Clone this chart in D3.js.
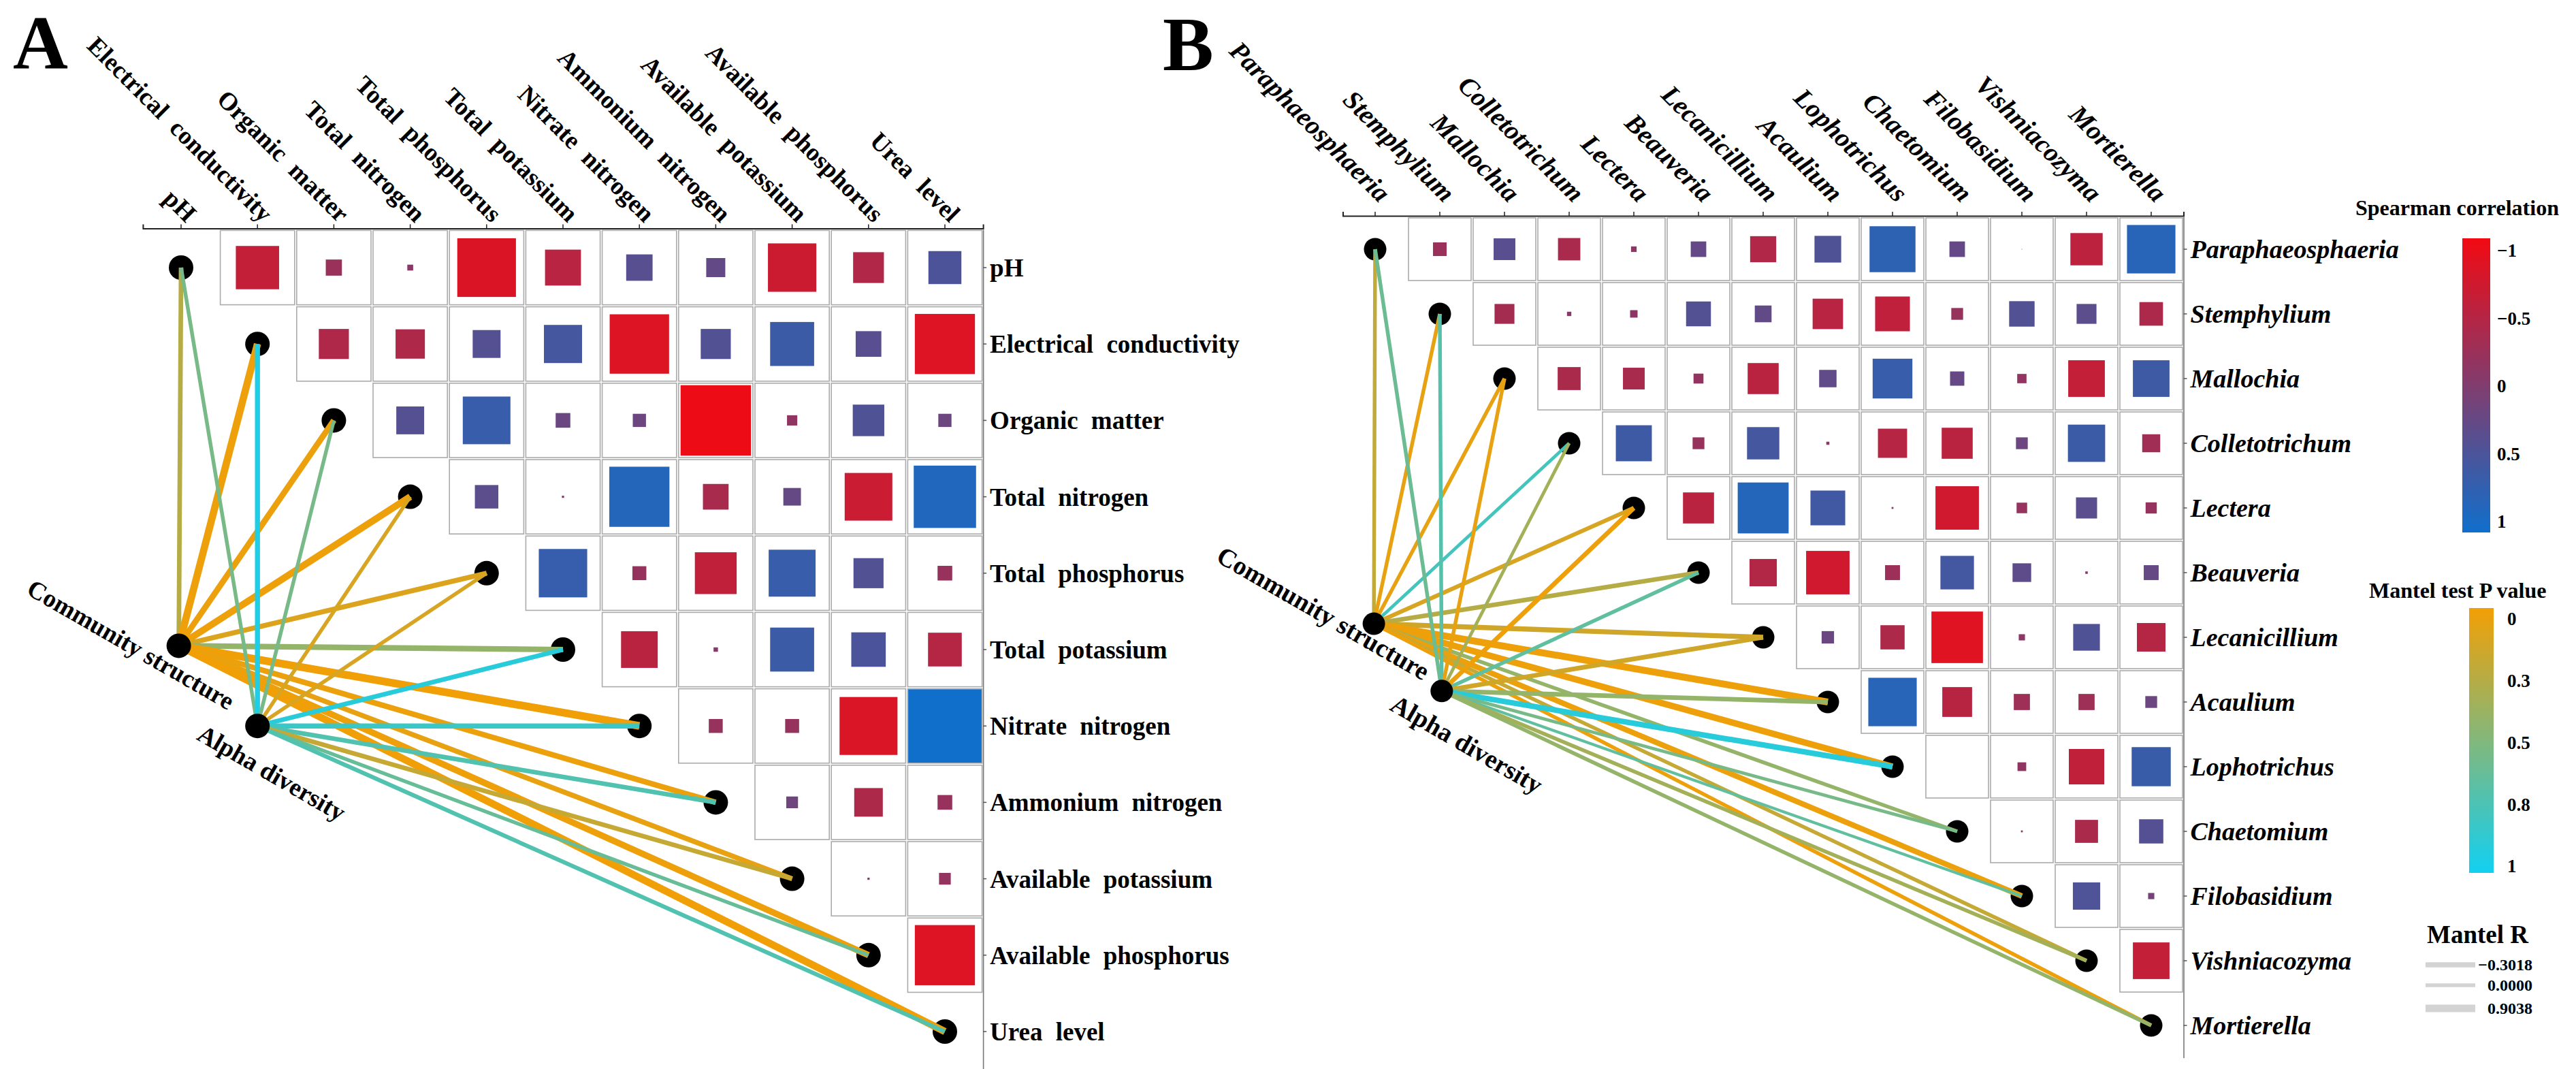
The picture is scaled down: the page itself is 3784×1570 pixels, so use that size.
<!DOCTYPE html>
<html>
<head>
<meta charset="utf-8">
<script src="https://cdn.jsdelivr.net/npm/d3@7"></script>
<style>
body { margin: 0; background: #fff; }
svg { display: block; }
</style>
</head>
<body>
<script>
// ---------- Panel A: soil properties ----------
const soilVars = ["pH", "Electrical conductivity", "Organic matter", "Total nitrogen", "Total phosphorus",
    "Total potassium", "Nitrate nitrogen", "Ammonium nitrogen", "Available potassium", "Available phosphorus", "Urea level"];
// Spearman r, upper triangle, row i holds columns i+1..n-1
const soilCorr = [
    [-0.59, -0.22, -0.08, -0.80, -0.49, 0.36, 0.26, -0.66, -0.42, 0.45],
    [-0.41, -0.40, 0.38, 0.52, -0.81, 0.41, 0.60, 0.35, -0.82],
    [0.38, 0.65, 0.20, 0.18, -0.96, -0.14, 0.43, 0.18],
    [0.32, -0.03, 0.82, -0.35, 0.24, -0.65, 0.85],
    [0.66, -0.19, -0.57, 0.64, 0.41, -0.20],
    [-0.50, -0.06, 0.60, 0.47, -0.46],
    [-0.19, -0.19, -0.79, 1.0],
    [0.16, -0.39, -0.20],
    [-0.03, -0.16],
    [-0.82]
];
const soilStructR = [0.16, 0.72, 0.44, 0.63, 0.25, 0.35, 0.81, 0.35, 0.25, 0.53, 0.72];
const soilStructP = [0.27, 0.02, 0.03, 0.02, 0.10, 0.42, 0.01, 0.03, 0.05, 0.02, 0.01];
const soilAlphaR = [-0.02, 0.25, -0.02, -0.02, -0.02, 0.16, 0.25, 0.16, 0.16, -0.02, 0.07];
const soilAlphaP = [0.55, 0.95, 0.55, 0.12, 0.12, 0.90, 0.82, 0.72, 0.20, 0.62, 0.72];

// ---------- Panel B: fungal genera ----------
const fungiVars = ["Paraphaeosphaeria", "Stemphylium", "Mallochia", "Colletotrichum", "Lectera", "Beauveria",
    "Lecanicillium", "Acaulium", "Lophotrichus", "Chaetomium", "Filobasidium", "Vishniacozyma", "Mortierella"];
const fungiCorr = [
    [-0.22, 0.35, -0.36, -0.09, 0.25, -0.42, 0.43, 0.74, 0.25, 0.01, -0.52, 0.78],
    [-0.32, -0.07, -0.12, 0.40, 0.27, -0.49, -0.56, -0.19, 0.41, 0.32, -0.38],
    [-0.37, -0.35, -0.16, -0.50, 0.28, 0.64, 0.23, -0.15, -0.59, 0.59],
    [0.58, -0.19, 0.52, -0.05, -0.47, -0.50, 0.19, 0.60, -0.29],
    [-0.50, 0.82, 0.56, -0.03, -0.70, -0.17, 0.34, -0.18],
    [-0.44, -0.70, -0.24, 0.54, 0.30, -0.04, 0.24],
    [0.20, -0.39, -0.83, -0.10, 0.43, -0.46],
    [0.78, -0.48, -0.26, -0.26, 0.19],
    [0.0, -0.14, -0.57, 0.63],
    [-0.03, -0.37, 0.39],
    [0.44, 0.10],
    [-0.59]
];
const fungiStructR = [-0.02, -0.02, -0.02, -0.12, 0.07, 0.16, 0.25, 0.63, 0.53, -0.02, 0.35, -0.02, -0.02];
const fungiStructP = [0.22, 0.05, 0.05, 0.78, 0.12, 0.27, 0.15, 0.02, 0.02, 0.42, 0.03, 0.20, 0.02];
const fungiAlphaR = [-0.02, -0.02, -0.02, -0.12, 0.16, -0.02, 0.16, 0.16, 0.35, -0.12, -0.21, -0.02, -0.02];
const fungiAlphaP = [0.60, 0.70, 0.05, 0.35, 0.02, 0.65, 0.15, 0.42, 0.90, 0.55, 0.65, 0.35, 0.42];

// ---------- legends ----------
const corrTicks = [-1, -0.5, 0, 0.5, 1];
const corrTickLabels = ["\u22121", "\u22120.5", "0", "0.5", "1"];
const pTicks = [0, 0.25, 0.5, 0.75, 1];
const pTickLabels = ["0", "0.3", "0.5", "0.8", "1"];
const mantelRKeys = [-0.3018, 0, 0.9038];
const mantelRLabels = ["\u22120.3018", "0.0000", "0.9038"];

const width = 3784;
const height = 1570;
const serif = "'Liberation Serif', 'Times New Roman', serif";

const svg = d3.select("body").append("svg")
    .attr("width", width)
    .attr("height", height)
    .style("font-family", serif)
    .style("font-weight", "bold");

svg.append("rect").attr("width", width).attr("height", height).attr("fill", "#fff");

const corrColor = d3.scaleLinear().domain([-1, 1]).range(["#F20A12", "#0F6FCB"]);
const pColor = d3.scaleLinear().domain([0, 1]).range(["#F29F05", "#12D0F2"]);
const lineWidth = d3.scaleLinear().domain([-0.3018, 0.9038]).range([3.5, 12]);
const legendLineWidth = d3.scaleLinear().domain([-0.3018, 0, 0.9038]).range([7.3, 5.7, 11]);

function drawPanel(p) {
    const n = p.vars.length;
    const half = p.pitch / 2;
    const x = d3.scaleBand().domain(p.vars).range([p.x0 - half, p.x0 + (n - 0.5) * p.pitch]);
    const y = d3.scaleBand().domain(p.vars).range([p.y0 - half, p.y0 + (n - 0.5) * p.pitch]);
    const cx = v => x(v) + half;
    const cy = v => y(v) + half;
    const side = d3.scaleLinear().domain([0, 1]).range([0, p.pitch * 0.96]);
    const g = svg.append("g");

    const cells = [];
    p.corr.forEach((row, i) => row.forEach((r, k) => {
        cells.push({ row: p.vars[i], col: p.vars[i + 1 + k], r: r });
    }));

    g.selectAll("rect.cell")
        .data(cells)
        .join("rect")
        .attr("class", "cell")
        .attr("x", d => x(d.col) + 1.5)
        .attr("y", d => y(d.row) + 1.5)
        .attr("width", p.pitch - 3)
        .attr("height", p.pitch - 3)
        .attr("fill", "#fff")
        .attr("stroke", "#ABABAB")
        .attr("stroke-width", 1.6);

    g.selectAll("rect.sq")
        .data(cells)
        .join("rect")
        .attr("class", "sq")
        .attr("x", d => cx(d.col) - side(Math.abs(d.r)) / 2)
        .attr("y", d => cy(d.row) - side(Math.abs(d.r)) / 2)
        .attr("width", d => side(Math.abs(d.r)))
        .attr("height", d => side(Math.abs(d.r)))
        .attr("fill", d => corrColor(d.r));

    // top axis with rotated labels
    const axTop = g.append("g")
        .attr("transform", `translate(0,${p.y0 - half - 1.5})`)
        .call(d3.axisTop(x).tickSizeInner(6).tickSizeOuter(6));
    axTop.attr("font-family", serif).attr("font-size", null);
    axTop.select(".domain").attr("stroke", "#222").attr("stroke-width", 2);
    axTop.selectAll(".tick line").attr("stroke", "#222").attr("stroke-width", 1.5);
    axTop.selectAll(".tick text")
        .attr("y", 0).attr("dy", null)
        .attr("text-anchor", "end")
        .attr("transform", `translate(${p.colDx},${p.colDy}) rotate(45)`)
        .attr("font-size", p.colFs)
        .style("font-style", p.italic ? "italic" : "normal")
        .style("word-spacing", p.wordSpace + "px")
        .attr("fill", "#000");

    // right axis with row labels
    const axRight = g.append("g")
        .attr("transform", `translate(${p.x0 + (n - 0.5) * p.pitch},0)`)
        .call(d3.axisRight(y).tickSizeInner(5).tickSizeOuter(0).tickPadding(5));
    axRight.attr("font-family", serif).attr("font-size", null);
    axRight.select(".domain").attr("stroke", "#777").attr("stroke-width", 1.6);
    axRight.selectAll(".tick line").attr("stroke", "#555").attr("stroke-width", 1.5);
    axRight.selectAll(".tick text")
        .attr("dy", "0.35em")
        .attr("font-size", p.fs)
        .style("font-style", p.italic ? "italic" : "normal")
        .style("word-spacing", p.wordSpace + "px")
        .attr("fill", "#000");

    // diagonal nodes
    g.selectAll("circle.diag")
        .data(p.vars)
        .join("circle")
        .attr("class", "diag")
        .attr("cx", cx)
        .attr("cy", cy)
        .attr("r", p.nodeR)
        .attr("fill", "#000");

    // mantel links
    const srcPos = s => [p.x0 + s.col * p.pitch, p.y0 + s.row * p.pitch];
    const links = [];
    p.sources.forEach(s => {
        const [sx, sy] = srcPos(s);
        p.vars.forEach((v, i) => links.push({ sx, sy, tx: cx(v), ty: cy(v), r: s.R[i], pv: s.P[i] }));
    });
    g.selectAll("line.link")
        .data(links)
        .join("line")
        .attr("class", "link")
        .attr("x1", d => d.sx).attr("y1", d => d.sy)
        .attr("x2", d => d.tx).attr("y2", d => d.ty)
        .attr("stroke", d => pColor(d.pv))
        .attr("stroke-width", d => lineWidth(d.r));

    p.sources.forEach(s => {
        const [sx, sy] = srcPos(s);
        g.append("circle").attr("cx", sx).attr("cy", sy).attr("r", p.nodeR).attr("fill", "#000");
        g.append("text")
            .attr("transform", `translate(${sx + s.ldx},${sy + s.ldy}) rotate(${s.angle})`)
            .attr("text-anchor", s.anchor)
            .attr("font-size", p.fs)
            .text(s.name);
    });

    svg.append("text")
        .attr("x", p.letterX).attr("y", p.letterY)
        .attr("font-size", 112)
        .text(p.letter);
}

drawPanel({
    vars: soilVars, corr: soilCorr, x0: 266, y0: 393, pitch: 112.2, nodeR: 18,
    fs: 37, colFs: 37, italic: false, wordSpace: 10, colDx: 7, colDy: -7,
    letter: "A", letterX: 19, letterY: 101,
    sources: [
        { name: "Community structure", col: -0.03, row: 4.95, R: soilStructR, P: soilStructP, ldx: 72, ldy: 95, angle: 30, anchor: "end" },
        { name: "Alpha diversity", col: 1.0, row: 6.0, R: soilAlphaR, P: soilAlphaP, ldx: -91, ldy: 19, angle: 30, anchor: "start" }
    ]
});

drawPanel({
    vars: fungiVars, corr: fungiCorr, x0: 2020, y0: 366, pitch: 95.0, nodeR: 16.5,
    fs: 38, colFs: 39, italic: true, wordSpace: 0, colDx: 6, colDy: -18,
    letter: "B", letterX: 1708, letterY: 103,
    sources: [
        { name: "Community structure", col: -0.02, row: 5.79, R: fungiStructR, P: fungiStructP, ldx: 72, ldy: 84, angle: 30, anchor: "end" },
        { name: "Alpha diversity", col: 1.03, row: 6.83, R: fungiAlphaR, P: fungiAlphaP, ldx: -78, ldy: 27, angle: 30, anchor: "start" }
    ]
});

// ---------- legends ----------
const defs = svg.append("defs");
function vGradient(id, scale, domain) {
    const grad = defs.append("linearGradient").attr("id", id)
        .attr("x1", 0).attr("y1", 0).attr("x2", 0).attr("y2", 1);
    d3.range(0, 1.0001, 0.1).forEach(t => {
        grad.append("stop").attr("offset", t)
            .attr("stop-color", scale(domain[0] + t * (domain[1] - domain[0])));
    });
}
vGradient("corrGrad", corrColor, [-1, 1]);
vGradient("pGrad", pColor, [0, 1]);

const lg = svg.append("g");
lg.append("text").attr("x", 3460).attr("y", 316).attr("font-size", 32).text("Spearman correlation");
lg.append("rect").attr("x", 3617).attr("y", 350).attr("width", 41).attr("height", 432).attr("fill", "url(#corrGrad)");
const corrY = d3.scaleLinear().domain([-1, 1]).range([368, 766]);
lg.selectAll("text.ct")
    .data(corrTicks)
    .join("text")
    .attr("class", "ct")
    .attr("x", 3668)
    .attr("y", d => corrY(d))
    .attr("dy", "0.35em")
    .attr("font-size", 27)
    .text((d, i) => corrTickLabels[i]);

lg.append("text").attr("x", 3480).attr("y", 878).attr("font-size", 32).text("Mantel test P value");
lg.append("rect").attr("x", 3627).attr("y", 893).attr("width", 36).attr("height", 389).attr("fill", "url(#pGrad)");
const pY = d3.scaleLinear().domain([0, 1]).range([909, 1272]);
lg.selectAll("text.pt")
    .data(pTicks)
    .join("text")
    .attr("class", "pt")
    .attr("x", 3683)
    .attr("y", d => pY(d))
    .attr("dy", "0.35em")
    .attr("font-size", 27)
    .text((d, i) => pTickLabels[i]);

lg.append("text").attr("x", 3565).attr("y", 1385).attr("font-size", 37).text("Mantel R");
const keyY = [1417, 1447, 1481];
lg.selectAll("line.rk")
    .data(mantelRKeys)
    .join("line")
    .attr("class", "rk")
    .attr("x1", 3563).attr("x2", 3636)
    .attr("y1", (d, i) => keyY[i])
    .attr("y2", (d, i) => keyY[i])
    .attr("stroke", "#D3D3D3")
    .attr("stroke-width", d => legendLineWidth(d));
lg.selectAll("text.rk")
    .data(mantelRKeys)
    .join("text")
    .attr("class", "rk")
    .attr("x", 3720)
    .attr("y", (d, i) => keyY[i])
    .attr("dy", "0.35em")
    .attr("text-anchor", "end")
    .attr("font-size", 24)
    .text((d, i) => mantelRLabels[i]);
</script>
</body>
</html>
